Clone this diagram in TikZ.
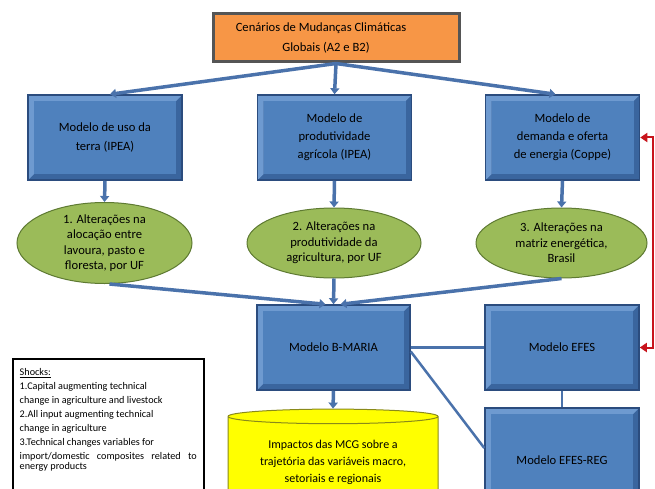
\documentclass[tikz,border=0pt]{standalone}
\usepackage{fontspec}
\setmainfont{Carlito}
\usetikzlibrary{calc}
\usetikzlibrary{arrows, arrows.meta}
\usetikzlibrary{shapes.geometric}

\definecolor{boxface}{HTML}{4F81BD}
\definecolor{boxlight}{HTML}{6E9AD0}
\definecolor{boxdark}{HTML}{3A659E}
\definecolor{boxedge}{HTML}{2B4C7E}
\definecolor{linkblue}{HTML}{4A72AB}
\definecolor{scenarioorange}{HTML}{F79646}
\definecolor{scenarioedge}{HTML}{555555}
\definecolor{leafgreen}{HTML}{9BBB59}
\definecolor{leafedge}{HTML}{5E7A32}
\definecolor{impactyellow}{HTML}{FFFF00}
\definecolor{impactedge}{HTML}{8A8A1A}
\definecolor{feedbackred}{HTML}{C8141C}

\begin{document}
\begin{tikzpicture}[x=1pt, y=-1pt]

\clip (0, 0) rectangle (655, 489) ;
\fill [white] (0, 0) rectangle (655, 489) ;

% styles

\def\bevel{6pt}

\tikzstyle{model box} =
	[rectangle, draw=boxedge, line width=1.5pt, fill=boxdark, inner sep=0pt,
	 minimum width=154pt, minimum height=85pt, align=center,
	 font=\fontsize{12.6}{18}\selectfont,
	 path picture={
		\fill [boxlight] (path picture bounding box.south west) -- (path picture bounding box.north west)
			-- (path picture bounding box.north east) -- ([shift={(-\bevel,-\bevel)}]path picture bounding box.north east)
			-- ([shift={(\bevel,-\bevel)}]path picture bounding box.north west) -- ([shift={(\bevel,\bevel)}]path picture bounding box.south west) -- cycle ;
		\fill [boxface] ([shift={(\bevel,-\bevel)}]path picture bounding box.north west)
			rectangle ([shift={(-\bevel,\bevel)}]path picture bounding box.south east) ;
	 }]
\tikzstyle{result ellipse} =
	[ellipse, draw=leafedge, line width=1pt, fill=leafgreen, inner sep=0pt,
	 minimum width=174pt, minimum height=70pt, align=center,
	 font=\fontsize{12.6}{15.5}\selectfont]
\tikzstyle{link arrow} =
	[line width=3.5pt, color=linkblue, -{Triangle[length=6pt, width=9pt]}]
\tikzstyle{link line} =
	[line width=2.5pt, color=linkblue]
\tikzstyle{feedback} =
	[line width=2pt, color=feedbackred, {Triangle[length=7pt, width=9pt]}-{Triangle[length=7pt, width=9pt]}]

% blocks

\node [rectangle, draw=scenarioedge, line width=3pt, fill=scenarioorange, align=center,
	minimum width=246pt, minimum height=48pt, font=\fontsize{12.6}{20}\selectfont]
	(scenarios) at (336, 38) {Cenários de Mudanças Climáticas\hspace*{30pt}\\ Globais (A2 e B2)\hspace*{20pt}} ;

\node [model box] (landuse) at (105, 137.5) {Modelo de uso da\\terra (IPEA)} ;
\node [model box] (productivity) at (334.5, 137.5) {Modelo de\\produtividade\\agrícola (IPEA)} ;
\node [model box] (energy) at (562.5, 137.5) {Modelo de\\demanda e oferta\\de energia (Coppe)} ;

\node [result ellipse, minimum width=175pt] (allocation) at (104.5, 243)
	{1. Alterações na\\alocação entre\\lavoura, pasto e\\floresta, por UF} ;
\node [result ellipse] (yield) at (334, 243)
	{2. Alterações na\\produtividade da\\agricultura, por UF} ;
\node [result ellipse, minimum width=171pt] (matrix) at (561.5, 243)
	{3. Alterações na\\matriz energética,\\Brasil} ;

\node [model box, minimum width=153pt] (bmaria) at (333.5, 347.5) {Modelo B-MARIA} ;
\node [model box] (efes) at (562, 347.5) {Modelo EFES} ;
\node [model box, minimum height=104pt] (efesreg) at (562, 460) {Modelo EFES-REG} ;

\node [cylinder, shape border rotate=90, aspect=0.1, draw=impactedge, line width=1pt,
	fill=impactyellow, minimum width=210pt, minimum height=98pt, inner sep=0pt, align=center,
	font=\fontsize{12}{17}\selectfont]
	(impacts) at (333, 462) {Impactos das MCG sobre a\\trajetória das variáveis macro,\\setoriais e regionais} ;

\node [rectangle, draw=black, line width=1.5pt, fill=white, anchor=north west, align=left,
	minimum width=191pt, minimum height=170pt, inner xsep=6pt, inner ysep=10pt, text depth=110pt,
	font=\fontsize{10.2}{14}\selectfont]
	(shocks) at (12, 358)
	{\underline{Shocks:}\\
	 1.Capital augmenting technical\\
	 change in agriculture and livestock\\
	 2.All input augmenting technical\\
	 change in agriculture\\
	 3.Technical changes variables for\\
	 \makebox[177pt][s]{import/domestic composites related to}\\[-4pt]
	 energy products} ;

% connectors

\draw [link arrow] (scenarios.south) -- ([xshift=5pt]landuse.north) ;
\draw [link arrow] (scenarios.south) -- (productivity.north) ;
\draw [link arrow] (scenarios.south) -- ([xshift=-7pt]energy.north) ;

\draw [link arrow] (landuse.south) -- (allocation.north) ;
\draw [link arrow] (productivity.south) -- (yield.north) ;
\draw [link arrow] (energy.south) -- (matrix.north) ;

\draw [link arrow] ([xshift=5pt]allocation.south) -- ([xshift=-8pt]bmaria.north) ;
\draw [link arrow] (yield.south) -- (bmaria.north) ;
\draw [link arrow] (matrix.south) -- ([xshift=7pt]bmaria.north) ;

\draw [link arrow] (bmaria.south) -- (impacts.north) ;

\draw [link line] (bmaria.east) -- (efes.west) ;
\draw [link line] (efes.south) -- (efesreg.north) ;
\draw [link line] ([yshift=-4pt]bmaria.east) -- ([yshift=12pt]efesreg.west) ;

\draw [feedback] (energy.east) -- ++(13, 0) |- (efes.east) ;

\end{tikzpicture}
\end{document}
